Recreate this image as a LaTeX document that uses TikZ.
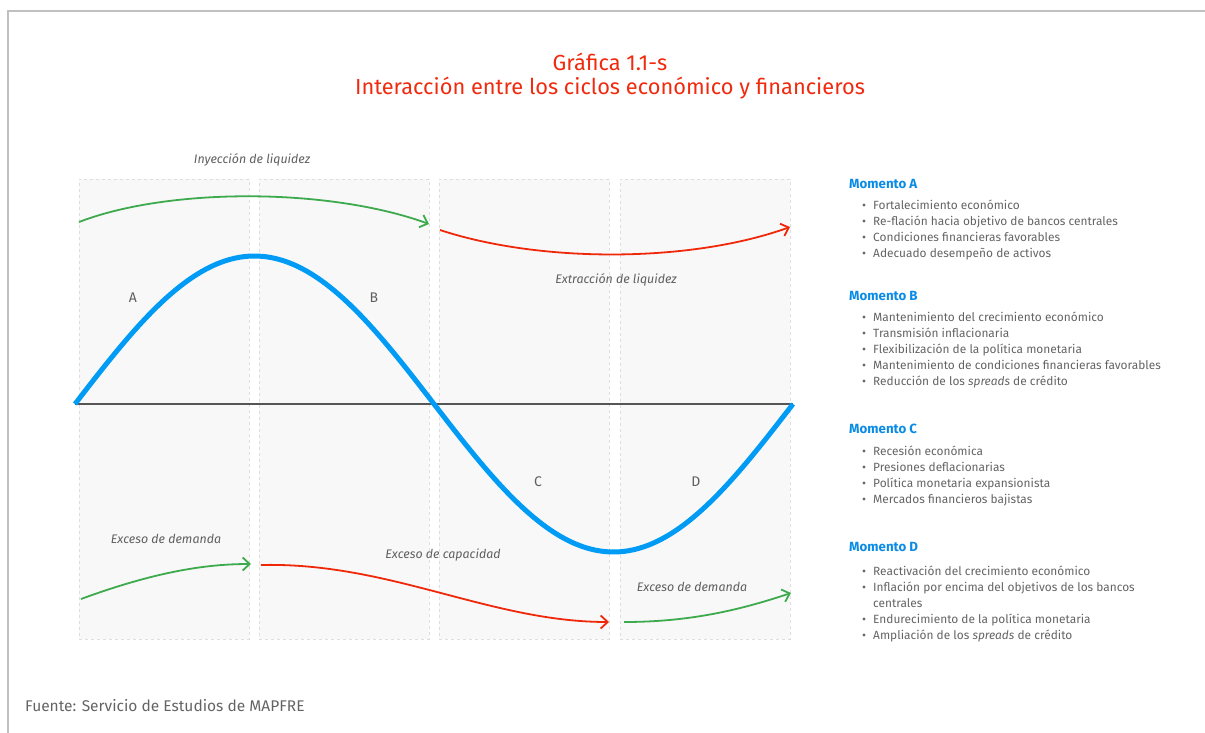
\documentclass[tikz,border=0pt]{standalone}
\usepackage{fontspec}
\setmainfont{Fira Sans}
\usetikzlibrary{arrows.meta}
\definecolor{titlered}{RGB}{240,42,14}
\definecolor{headblue}{RGB}{10,140,230}
\definecolor{curveblue}{RGB}{0,155,245}
\definecolor{arrgreen}{RGB}{62,170,78}
\definecolor{arrred}{RGB}{240,40,10}
\definecolor{txtgray}{RGB}{100,100,100}
\definecolor{lblgray}{RGB}{95,95,95}
\definecolor{panelfill}{RGB}{248,248,248}
\definecolor{paneldraw}{RGB}{222,222,222}
\definecolor{framegray}{RGB}{192,192,192}
\definecolor{axisgray}{RGB}{85,85,85}
\tikzset{
  panelbox/.style={draw=paneldraw, fill=panelfill, dashed, line width=0.6pt, minimum width=170pt, minimum height=460pt, anchor=north west, inner sep=0pt},
  flowarrow/.style={line width=1.8pt, -{Straight Barb[length=7pt,width=13pt,line width=1.8pt]}},
  greenflow/.style={flowarrow, draw=arrgreen},
  redflow/.style={flowarrow, draw=arrred},
  phaselbl/.style={text=lblgray, font=\itshape\fontsize{12.4}{14}\selectfont, inner sep=0pt},
  letterlbl/.style={text=lblgray, font=\fontsize{14}{16}\selectfont, inner sep=0pt},
  headtxt/.style={text=headblue, font=\bfseries\fontsize{13.3}{15}\selectfont, anchor=base west, inner sep=0pt},
  itemtxt/.style={text=txtgray, font=\fontsize{11.9}{14}\selectfont, anchor=base west, inner sep=0pt},
  titletxt/.style={text=titlered, font=\fontsize{21.8}{24}\selectfont, inner sep=0pt},
}
\newcommand{\bitem}[2]{\fill[txtgray] (864,#1) circle (1.6pt); \node[itemtxt] at (873,#1+4.2) {#2};}
\begin{document}
\begin{tikzpicture}[x=1pt,y=-1pt]
\useasboundingbox (0,0) rectangle (1205,733);
% frame
\draw[framegray, line width=2pt] (8,733) -- (8,11) -- (1205,11);
% title
\node[titletxt] (title1) at (610,62) {Gráfica 1.1-s};
\node[titletxt] (title2) at (610,88) {Interacción entre los ciclos económico y financieros};
% panels
\node[panelbox] (p1) at (79,179) {};
\node[panelbox] (p2) at (259,179) {};
\node[panelbox] (p3) at (439,179) {};
\node[panelbox] (p4) at (620,179) {};
% axis
\coordinate (ax0) at (75,404);
\coordinate (ax1) at (793,404);
\draw[axisgray, line width=1.7pt] (ax0) -- (ax1);
% cycle
\draw[curveblue, line width=5pt] plot[domain=0:360, samples=150] ({75+1.994444*\x},{404-148*sin(\x)});
% letters
\node[letterlbl] (la) at (133,298) {A};
\node[letterlbl] (lb) at (374,298) {B};
\node[letterlbl] (lc) at (538,482) {C};
\node[letterlbl] (ld) at (696,482) {D};
% flow arrows
\coordinate (g1s) at (79,222);
\coordinate (g1e) at (429,224);
\coordinate (r1s) at (440,230);
\coordinate (r1e) at (790,227);
\coordinate (g2s) at (81,599);
\coordinate (g2e) at (251,564);
\coordinate (r2s) at (261,565);
\coordinate (r2e) at (609,622);
\coordinate (g3s) at (624,622);
\coordinate (g3e) at (791,593);
\draw[greenflow] (g1s) .. controls (170,187) and (330,188) .. (g1e);
\draw[redflow] (r1s) .. controls (540,263) and (690,263) .. (r1e);
\draw[greenflow] (g2s) .. controls (160,570) and (210,564) .. (g2e);
\draw[redflow] (r2s) .. controls (390,562) and (490,622) .. (r2e);
\draw[greenflow] (g3s) .. controls (690,622) and (740,610) .. (g3e);
% phase labels
\node[phaselbl] (iny) at (252,160) {Inyección de liquidez};
\node[phaselbl] (ext) at (616,280) {Extracción de liquidez};
\node[phaselbl] (ed1) at (166,539) {Exceso de demanda};
\node[phaselbl] (ecap) at (443,555) {Exceso de capacidad};
\node[phaselbl] (ed2) at (692,587) {Exceso de demanda};
% right-hand text
\node[headtxt] (ma) at (849,188.8) {Momento A};
\bitem{205}{Fortalecimiento económico}
\bitem{221}{Re-flación hacia objetivo de bancos centrales}
\bitem{237}{Condiciones financieras favorables}
\bitem{253}{Adecuado desempeño de activos}
\node[headtxt] (mb) at (849,300.8) {Momento B};
\bitem{317}{Mantenimiento del crecimiento económico}
\bitem{333}{Transmisión inflacionaria}
\bitem{349}{Flexibilización de la política monetaria}
\bitem{365}{Mantenimiento de condiciones financieras favorables}
\bitem{381}{Reducción de los \textit{spreads} de crédito}
\node[headtxt] (mc) at (849,433.8) {Momento C};
\bitem{451}{Recesión económica}
\bitem{467}{Presiones deflacionarias}
\bitem{483}{Política monetaria expansionista}
\bitem{499}{Mercados financieros bajistas}
\node[headtxt] (md) at (849,551.8) {Momento D};
\bitem{571}{Reactivación del crecimiento económico}
\bitem{587}{Inflación por encima del objetivos de los bancos}
\node[itemtxt] (cent) at (873,607.2) {centrales};
\bitem{619}{Endurecimiento de la política monetaria}
\bitem{635}{Ampliación de los \textit{spreads} de crédito}
% source
\node[text=txtgray, font=\fontsize{15.5}{18}\selectfont, anchor=base west, inner sep=0pt] (src) at (25,711.5) {Fuente: Servicio de Estudios de MAPFRE};
\end{tikzpicture}
\end{document}
